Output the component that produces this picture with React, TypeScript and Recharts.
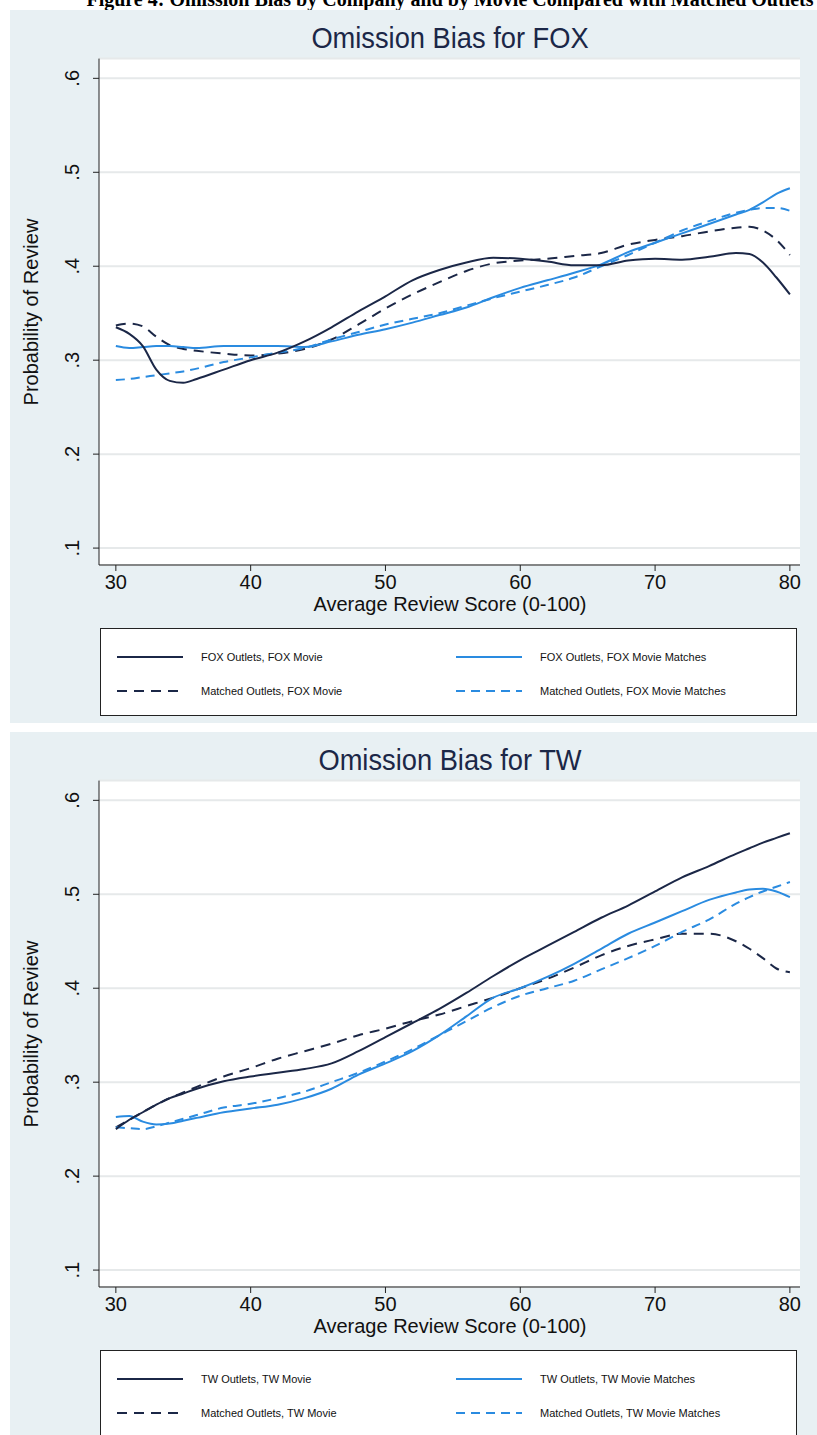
import React from "react";
import { LineChart, Line, XAxis, YAxis, CartesianGrid } from "recharts";

const scores = [30, 31, 32, 33, 34, 35, 36, 38, 40, 42, 44, 46, 48, 50, 52, 54, 56, 58, 60, 62, 64, 66, 68, 70, 72, 74, 76, 77, 78, 79, 80];
const xTicks = [30, 40, 50, 60, 70, 80];
const yTicks = [0.1, 0.2, 0.3, 0.4, 0.5, 0.6];

const foxOwn = [0.335, 0.328, 0.315, 0.29, 0.278, 0.276, 0.28, 0.29, 0.3, 0.308, 0.32, 0.335, 0.352, 0.368, 0.385, 0.396, 0.404, 0.409, 0.408, 0.405, 0.401, 0.401, 0.406, 0.408, 0.407, 0.41, 0.414, 0.413, 0.404, 0.388, 0.37];
const foxMatchedOutlets = [0.337, 0.339, 0.336, 0.325, 0.316, 0.312, 0.31, 0.307, 0.305, 0.307, 0.312, 0.322, 0.338, 0.355, 0.37, 0.383, 0.395, 0.403, 0.406, 0.408, 0.411, 0.414, 0.423, 0.428, 0.432, 0.437, 0.441, 0.442, 0.438, 0.428, 0.412];
const foxOwnMatches = [0.315, 0.313, 0.314, 0.315, 0.315, 0.314, 0.313, 0.315, 0.315, 0.315, 0.314, 0.32, 0.327, 0.333, 0.34, 0.348, 0.356, 0.367, 0.377, 0.385, 0.393, 0.402, 0.415, 0.425, 0.435, 0.445, 0.455, 0.46, 0.468, 0.477, 0.483];
const foxMatchedMatches = [0.279, 0.28, 0.282, 0.284, 0.286, 0.288, 0.291, 0.298, 0.303, 0.308, 0.313, 0.322, 0.33, 0.338, 0.344, 0.35, 0.358, 0.366, 0.373, 0.38, 0.388, 0.4, 0.412, 0.425, 0.438, 0.448, 0.457, 0.46, 0.462, 0.462, 0.459];

const twOwn = [0.25, 0.26, 0.268, 0.276, 0.283, 0.288, 0.293, 0.301, 0.306, 0.31, 0.314, 0.32, 0.333, 0.348, 0.363, 0.378, 0.395, 0.413, 0.43, 0.445, 0.46, 0.475, 0.488, 0.503, 0.518, 0.53, 0.543, 0.549, 0.555, 0.56, 0.565];
const twMatchedOutlets = [0.252, 0.26, 0.268, 0.276, 0.283, 0.289, 0.295, 0.306, 0.315, 0.325, 0.333, 0.341, 0.35, 0.357, 0.365, 0.372, 0.381, 0.39, 0.4, 0.41, 0.422, 0.435, 0.445, 0.452, 0.458, 0.458, 0.45, 0.442, 0.432, 0.421, 0.417];
const twOwnMatches = [0.263, 0.264, 0.258, 0.255, 0.256, 0.259, 0.262, 0.268, 0.272, 0.276, 0.283, 0.293, 0.308, 0.32, 0.333, 0.35, 0.37, 0.39, 0.4, 0.412, 0.426, 0.442, 0.458, 0.47, 0.482, 0.494, 0.502, 0.505, 0.506, 0.503, 0.497];
const twMatchedMatches = [0.252, 0.251, 0.25, 0.253, 0.257, 0.261, 0.265, 0.273, 0.277, 0.283, 0.29, 0.3, 0.31, 0.322, 0.335, 0.35, 0.365, 0.38, 0.392, 0.4, 0.408, 0.42, 0.432, 0.445, 0.46, 0.473, 0.49, 0.497, 0.503, 0.508, 0.513];

const DARK = "#1b2747";
const BLUE = "#2a8be0";
const FONT = "'Liberation Sans', Arial, sans-serif";

const YTick = ({ x, y, payload }: any) => (
  <text x={x - 12} y={y} transform={`rotate(-90 ${x - 12} ${y})`} textAnchor="middle" fontSize={20} fill="#111" fontFamily={FONT}>
    {String(payload.value.toFixed(1)).replace(/^0/, "")}
  </text>
);

const XTick = ({ x, y, payload }: any) => (
  <text x={x} y={y + 16} textAnchor="middle" fontSize={20} fill="#111" fontFamily={FONT}>
    {payload.value}
  </text>
);

function LegendSample({ color, dash }: { color: string; dash?: string }) {
  return (
    <svg width={66} height={6} style={{ display: "block" }}>
      <line x1={0} y1={3} x2={66} y2={3} stroke={color} strokeWidth={2} strokeDasharray={dash} />
    </svg>
  );
}

function Panel({ top, name, s1, s2, s3, s4 }: { top: number; name: string; s1: number[]; s2: number[]; s3: number[]; s4: number[] }) {
  const data = scores.map((x, i) => ({ x, a: s1[i], b: s2[i], c: s3[i], d: s4[i] }));
  const items = [
    { label: `${name} Outlets, ${name} Movie`, color: DARK, left: 16, top: 22 },
    { label: `${name} Outlets, ${name} Movie Matches`, color: BLUE, left: 355, top: 22 },
    { label: `Matched Outlets, ${name} Movie`, color: DARK, dash: "10 7", left: 16, top: 56 },
    { label: `Matched Outlets, ${name} Movie Matches`, color: BLUE, dash: "9 6", left: 355, top: 56 },
  ];
  return (
    <div style={{ position: "absolute", left: 0, top, width: 817, height: 713 }}>
      <div style={{ position: "absolute", left: 10, top: 0, right: 0, bottom: 0, background: "#e8f0f3" }} />
      <div style={{ position: "absolute", left: 0, width: 900, top: 12, textAlign: "center", fontFamily: FONT, fontSize: 29, color: DARK, transform: "scaleX(0.94)" }}>
        Omission Bias for {name}
      </div>
      <div style={{ position: "absolute", left: 0, top: 0 }}>
        <LineChart width={817} height={600} data={data} margin={{ top: 48.6, right: 17, left: 39, bottom: 15 }}>
          <CartesianGrid horizontal vertical={false} stroke="#e6e9ea" strokeWidth={2} fill="#ffffff" />
          <XAxis dataKey="x" type="number" domain={[28.75, 80.75]} ticks={xTicks} tick={<XTick />} stroke="#222" tickSize={6} height={30} />
          <YAxis type="number" domain={[0.082, 0.621]} ticks={yTicks} tick={<YTick />} stroke="#222" tickSize={6} width={60} />
          <Line dataKey="b" type="monotone" stroke={DARK} strokeWidth={2} strokeDasharray="10 7" dot={false} isAnimationActive={false} />
          <Line dataKey="d" type="monotone" stroke={BLUE} strokeWidth={2} strokeDasharray="9 6" dot={false} isAnimationActive={false} />
          <Line dataKey="c" type="monotone" stroke={BLUE} strokeWidth={2} dot={false} isAnimationActive={false} />
          <Line dataKey="a" type="monotone" stroke={DARK} strokeWidth={2} dot={false} isAnimationActive={false} />
        </LineChart>
      </div>
      <div style={{ position: "absolute", left: 31, top: 302, width: 0, height: 0 }}>
        <div style={{ position: "absolute", transform: "translate(-50%,-50%) rotate(-90deg)", whiteSpace: "nowrap", fontFamily: FONT, fontSize: 20, color: "#111" }}>
          Probability of Review
        </div>
      </div>
      <div style={{ position: "absolute", left: 100, width: 700, top: 583, textAlign: "center", fontFamily: FONT, fontSize: 20, color: "#111" }}>
        Average Review Score (0-100)
      </div>
      <div style={{ position: "absolute", left: 100, top: 618, width: 695, height: 86, background: "#fff", border: "1.5px solid #222" }}>
        {items.map((it) => (
          <div key={it.label} style={{ position: "absolute", left: it.left, top: it.top, display: "flex", alignItems: "center", gap: 18, fontFamily: FONT, fontSize: 11, color: "#111" }}>
            <LegendSample color={it.color} dash={it.dash} />
            <span>{it.label}</span>
          </div>
        ))}
      </div>
    </div>
  );
}

export default function App() {
  return (
    <div style={{ position: "absolute", left: 0, top: 0, width: 817, height: 1435, background: "#fff", overflow: "hidden" }}>
      <div style={{ position: "absolute", left: 0, width: 900, top: -12, textAlign: "center", fontFamily: "'Liberation Serif', serif", fontWeight: "bold", fontSize: 20 }}>
        Figure 4: Omission Bias by Company and by Movie Compared with Matched Outlets
      </div>
      <Panel top={10} name="FOX" s1={foxOwn} s2={foxMatchedOutlets} s3={foxOwnMatches} s4={foxMatchedMatches} />
      <Panel top={732} name="TW" s1={twOwn} s2={twMatchedOutlets} s3={twOwnMatches} s4={twMatchedMatches} />
    </div>
  );
}
